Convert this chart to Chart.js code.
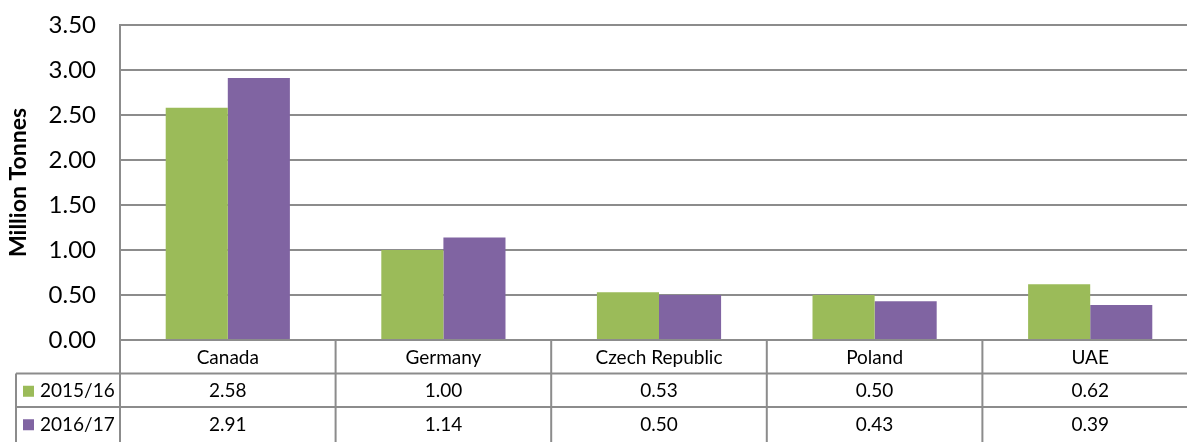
<!DOCTYPE html>
<html>
<head>
<meta charset="utf-8">
<script src="https://cdn.jsdelivr.net/npm/chart.js@4"></script>
<style>
  html, body { margin: 0; padding: 0; background: #fff; overflow: hidden; }
  #wrap { width: 1187px; height: 442px; overflow: hidden; }
</style>
</head>
<body>
<div id="wrap"><canvas id="chart" width="1200" height="442"></canvas></div>
<script>
// ---------------- DATA ----------------
const categories = ["Canada", "Germany", "Czech Republic", "Poland", "UAE"];
const seriesNames = ["2015/16", "2016/17"];
const values1516 = [2.58, 1.00, 0.53, 0.50, 0.62];
const values1617 = [2.91, 1.14, 0.50, 0.43, 0.39];
const yTicks = [0, 0.5, 1, 1.5, 2, 2.5, 3, 3.5];

const GREEN = "#9bbb59";
const PURPLE = "#8064a2";
const LINE = "#8c8c8c";
const FONT = "Lato, 'Open Sans', sans-serif";

// ---------------- DATA TABLE PLUGIN ----------------
const dataTable = {
  id: "dataTable",
  afterDraw(chart) {
    const { ctx, chartArea, scales } = chart;
    const x = scales.x;
    const top = chartArea.bottom;
    const rowH = 33.5;
    const bottom = chart.height;
    const left = 16;
    const right = chart.width;
    const half = (x.getPixelForValue(1) - x.getPixelForValue(0)) / 2;

    ctx.save();
    ctx.strokeStyle = LINE;
    ctx.lineWidth = 2;

    // horizontal lines
    ctx.beginPath();
    ctx.moveTo(chartArea.left, top); ctx.lineTo(right, top);
    ctx.moveTo(left, top + rowH); ctx.lineTo(right, top + rowH);
    ctx.moveTo(left, top + rowH * 2); ctx.lineTo(right, top + rowH * 2);
    // verticals
    ctx.moveTo(left, top + rowH); ctx.lineTo(left, bottom);
    ctx.moveTo(chartArea.left, chartArea.top); ctx.lineTo(chartArea.left, bottom);
    categories.forEach((c, i) => {
      const xr = x.getPixelForValue(i) + half;
      ctx.moveTo(xr, top); ctx.lineTo(xr, bottom);
    });
    ctx.stroke();

    // text
    ctx.fillStyle = "#000";
    ctx.textBaseline = "middle";
    ctx.textAlign = "center";
    ctx.font = "19px " + FONT;
    categories.forEach((c, i) => {
      const cx = x.getPixelForValue(i);
      ctx.fillText(c, cx, top + rowH / 2 + 1);
      ctx.fillText(values1516[i].toFixed(2), cx, top + rowH * 1.5 + 1);
      ctx.fillText(values1617[i].toFixed(2), cx, top + rowH * 2.5 + 1);
    });

    // legend keys
    const colors = [GREEN, PURPLE];
    ctx.textAlign = "left";
    seriesNames.forEach((s, j) => {
      const cy = top + rowH * (1.5 + j) + 1;
      ctx.fillStyle = colors[j];
      ctx.fillRect(23, cy - 5.5, 11, 11);
      ctx.fillStyle = "#000";
      ctx.fillText(s, 40, cy);
    });
    ctx.restore();
  }
};

// ---------------- CHART ----------------
new Chart(document.getElementById("chart"), {
  type: "bar",
  data: {
    labels: categories,
    datasets: [
      { label: seriesNames[0], data: values1516, backgroundColor: GREEN },
      { label: seriesNames[1], data: values1617, backgroundColor: PURPLE },
    ],
  },
  options: {
    responsive: false,
    animation: false,
    layout: { padding: { left: 5, top: 25, right: 2, bottom: 102 } },
    datasets: { bar: { categoryPercentage: 0.576, barPercentage: 1 } },
    plugins: { legend: { display: false }, tooltip: { enabled: false } },
    scales: {
      x: { display: false },
      y: {
        min: 0,
        max: 3.5,
        afterBuildTicks(scale) {
          scale.ticks = yTicks.map((v) => ({ value: v }));
        },
        afterFit(scale) {
          scale.width = 115;
          scale.paddingTop = 0;
          scale.paddingBottom = 0;
        },
        grid: { color: LINE, lineWidth: 2, drawTicks: false },
        border: { color: LINE, width: 2 },
        ticks: {
          padding: 24,
          color: "#000",
          font: { family: FONT, size: 24 },
          callback: (v) => v.toFixed(2),
        },
        title: {
          display: true,
          text: "Million Tonnes",
          color: "#000",
          font: { family: FONT, size: 23, weight: "bold" },
          padding: { top: 0, bottom: 0 },
        },
      },
    },
  },
  plugins: [dataTable],
});
</script>
</body>
</html>
